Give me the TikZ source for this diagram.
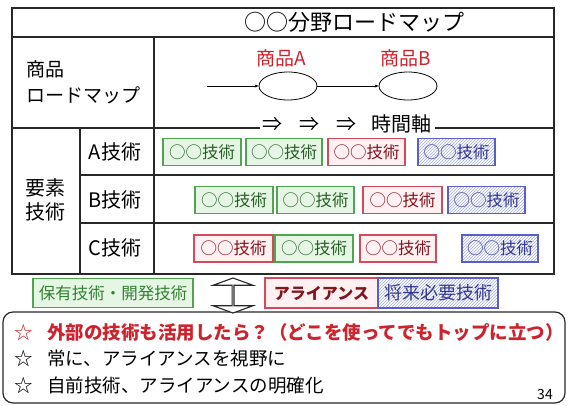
\documentclass[tikz,border=0pt]{standalone}
\usepackage{fontspec}
\setmainfont{Noto Sans CJK JP}
\usetikzlibrary{patterns,shapes.geometric,shapes.arrows,arrows.meta}
\definecolor{gborder}{RGB}{80,165,80}
\definecolor{gfill}{RGB}{230,246,228}
\definecolor{gtext}{RGB}{40,95,40}
\definecolor{gtextb}{RGB}{50,130,50}
\definecolor{rborder}{RGB}{210,75,90}
\definecolor{rfill}{RGB}{255,240,242}
\definecolor{rtext}{RGB}{130,20,30}
\definecolor{bborder}{RGB}{90,95,200}
\definecolor{bhatch}{RGB}{160,172,228}
\definecolor{btext}{RGB}{50,55,150}
\definecolor{ltext}{RGB}{205,35,45}
\definecolor{frame}{RGB}{40,40,40}
\tikzset{
  tline/.style={draw=frame, line width=1.2pt},
  tbox/.style={line width=1.1pt, minimum height=27pt, inner sep=0pt, font=\fontsize{16.5}{16.5}\selectfont},
  gbox/.style={tbox, draw=gborder, fill=gfill, text=gtext},
  rbox/.style={tbox, draw=rborder, fill=rfill, text=rtext},
  bbox/.style={tbox, draw=bborder, pattern=north east lines, pattern color=bhatch, text=btext},
  lbl/.style={font=\fontsize{19}{26}\selectfont, align=left, inner sep=0pt},
  prod/.style={draw=black, ellipse, line width=0.8pt, minimum width=58pt, minimum height=28pt, inner sep=0pt},
  conn/.style={draw=black, line width=0.6pt, -{Stealth[length=4pt,width=3pt]}},
  bul/.style={font=\fontsize{18.5}{20}\selectfont, anchor=west, inner sep=0pt}
}
\begin{document}
\begin{tikzpicture}[x=1pt,y=-1pt]
\useasboundingbox (0,0) rectangle (569,405);
% table
\draw[tline] (12,8) rectangle (554,274);
\draw[tline] (12,37) -- (554,37);
\draw[tline] (12,128) -- (554,128);
\draw[tline] (80,175) -- (554,175);
\draw[tline] (80,223) -- (554,223);
\draw[tline] (154,37) -- (154,274);
\draw[tline] (80,128) -- (80,274);
\node[font=\fontsize{22}{22}\selectfont, inner sep=0pt] (title) at (354,22) {○○分野ロードマップ};
\node[lbl, anchor=west] (prodlbl) at (26,82) {商品\\ロードマップ};
\node[lbl, anchor=center, align=center, font=\fontsize{20}{24}\selectfont] (elem) at (45,200) {要素\\技術};
\node[lbl, anchor=center, font=\fontsize{20}{24}\selectfont] (ta) at (115,152) {A技術};
\node[lbl, anchor=center, font=\fontsize{20}{24}\selectfont] (tb) at (115,200) {B技術};
\node[lbl, anchor=center, font=\fontsize{20}{24}\selectfont] (tc) at (115,248) {C技術};
% product roadmap
\node[font=\fontsize{19}{19}\selectfont, text=ltext, inner sep=0pt] (la) at (281,58) {商品A};
\node[font=\fontsize{19}{19}\selectfont, text=ltext, inner sep=0pt] (lb) at (406,58) {商品B};
\node[prod] (ea) at (288,86) {};
\node[prod] (eb) at (408,86) {};
\coordinate (st) at (207,86);
\draw[conn] (st) -- (ea);
\draw[conn] (ea) -- (eb);
\node[fill=white, font=\fontsize{20}{20}\selectfont, inner xsep=3pt, inner ysep=0pt] (axis) at (347,124) {⇒\hspace{17pt}⇒\hspace{17pt}⇒\hspace{15pt}時間軸};
% row A
\node[gbox, minimum width=78pt] (a1) at (202,152) {○○技術};
\node[gbox, minimum width=76pt] (a2) at (284,152) {○○技術};
\node[rbox, minimum width=77pt] (a3) at (366.5,152) {○○技術};
\node[bbox, minimum width=77pt] (a4) at (456.5,152) {○○技術};
% row B
\node[gbox, minimum width=78pt] (b1) at (234,200) {○○技術};
\node[gbox, minimum width=77pt] (b2) at (315.5,200) {○○技術};
\node[rbox, minimum width=79pt] (b3) at (402.5,200) {○○技術};
\node[bbox, minimum width=77pt] (b4) at (486.5,200) {○○技術};
% row C
\node[rbox, minimum width=79pt] (c1) at (233.5,248.5) {○○技術};
\node[gbox, minimum width=78pt] (c2) at (314,248.5) {○○技術};
\node[rbox, minimum width=76pt] (c3) at (398,248.5) {○○技術};
\node[bbox, minimum width=76pt] (c4) at (500,248.5) {○○技術};
% bottom panel
\draw[draw=frame, line width=1.2pt, rounded corners=10pt] (3,312) rectangle (565,403);
% legend row
\node[gbox, minimum width=160pt, minimum height=29pt, font=\fontsize{16.5}{16.5}\selectfont, text=gtextb] (hold) at (113,293) {保有技術・開発技術};
\node[draw=frame, fill=white, line width=1.1pt, double arrow, shape border rotate=90, minimum height=35pt, minimum width=40pt, double arrow head extend=11pt, double arrow tip angle=140, inner sep=0pt] (ud) at (233,295.5) {};
\node[rbox, minimum width=113pt, minimum height=30pt, font=\bfseries\fontsize{16}{16}\selectfont] (alli) at (321.5,293) {アライアンス};
\node[bbox, minimum width=120pt, minimum height=30pt, font=\fontsize{18}{18}\selectfont] (fut) at (438,293) {将来必要技術};
% bullet lines
\node[bul, text=ltext] (s1) at (14,332) {☆};
\node[bul, text=ltext, font=\bfseries\fontsize{18.5}{20}\selectfont] (t1) at (47,332) {外部の技術も活用したら？（どこを使ってでもトップに立つ）};
\node[bul] (s2) at (14,358) {☆};
\node[bul] (t2) at (47,358) {常に、アライアンスを視野に};
\node[bul] (s3) at (14,385) {☆};
\node[bul] (t3) at (47,385) {自前技術、アライアンスの明確化};
\node[font=\fontsize{14}{14}\selectfont, inner sep=0pt] (pg) at (545,394) {34};
\end{tikzpicture}
\end{document}
